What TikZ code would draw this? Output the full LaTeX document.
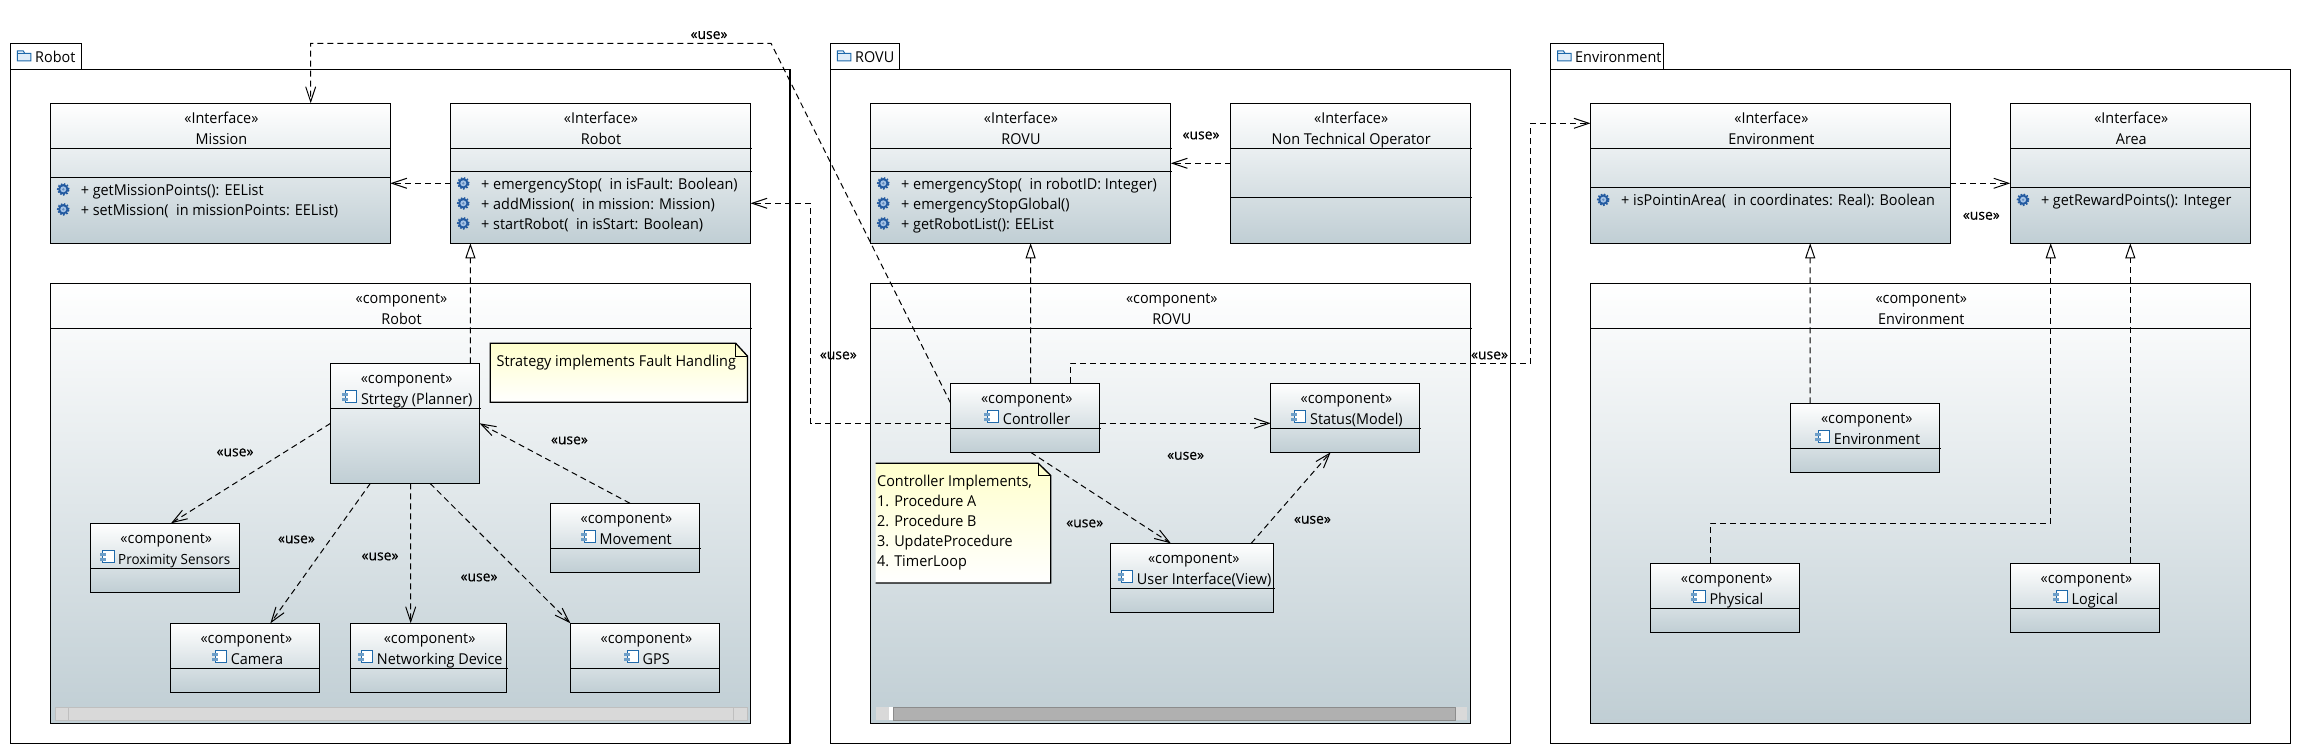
\documentclass[tikz,border=0pt]{standalone}
\usepackage{fontspec}
\setmainfont[FakeStretch=0.96]{Open Sans}
\newfontfamily\usefam[FakeStretch=0.96,FakeBold=0.3]{Open Sans}
\usetikzlibrary{arrows.meta,calc}
\definecolor{boxbot}{RGB}{192,206,212}
\definecolor{noteyel}{RGB}{255,255,204}
\definecolor{iconblue}{RGB}{30,105,170}
\definecolor{iconlight}{RGB}{222,236,248}
\definecolor{gearblue}{RGB}{35,90,160}
\definecolor{gearlight}{RGB}{165,195,230}
\definecolor{barlight}{RGB}{217,217,217}
\definecolor{bardark}{RGB}{176,176,176}
\tikzset{
  x=1pt,y=-1pt,
  pkgbox/.style={draw=black,line width=1.3pt,fill=white,inner sep=0pt,outer sep=0pt,anchor=north west},
  umlbox/.style={draw=black,line width=1.3pt,top color=white,bottom color=boxbot,shading angle=0,inner sep=0pt,outer sep=0pt,anchor=north west},
  sepline/.style={line width=1.2pt,black},
  usedep/.style={line width=1pt,dash pattern=on 6pt off 4pt,-{Straight Barb[length=15pt,width=10pt,line width=1pt]}},
  realize/.style={line width=1pt,dash pattern=on 6pt off 4pt,-{Triangle[length=15pt,width=10pt,fill=white,line width=1pt]}},
  txt/.style={font=\fontsize{15}{16}\selectfont,inner sep=0pt,text=black,text height=10.5pt,text depth=0pt},
  ltxt/.style={txt,anchor=west},
  ctxt/.style={txt,anchor=center},
  uselabel/.style={txt,anchor=center,font=\fontsize{14.5}{16}\usefam,yshift=1.25pt},
}
\newcommand{\foldericon}[2]{%
  \draw[iconblue,line width=1pt,fill=iconlight] (#1,#2+2.5) -- (#1,#2) -- (#1+6,#2) -- (#1+7.5,#2+2.5) -- (#1+13.5,#2+2.5) -- (#1+13.5,#2+10) -- (#1,#2+10) -- cycle;
  \draw[iconblue,line width=.8pt] (#1,#2+2.5) -- (#1+7.5,#2+2.5);
}
\newcommand{\compicon}[2]{%
  \draw[iconblue,line width=1pt,fill=white] (#1+3,#2) rectangle (#1+14.5,#2+12);
  \fill[iconblue!65] (#1,#2+2.5) rectangle (#1+6,#2+5);
  \fill[iconblue!65] (#1,#2+7.5) rectangle (#1+6,#2+10);
}
\newcommand{\gearicon}[2]{%
  \fill[gearblue] (#1,#2) circle (5.2pt);
  \draw[gearblue,line width=1.6pt,dash pattern=on 1.6pt off 1.6pt] (#1,#2) circle (5.6pt);
  \fill[gearlight] (#1,#2) circle (3pt);
  \fill[gearblue!70] (#1,#2) circle (1.3pt);
}
\newcommand{\ubox}[5]{\node[umlbox,minimum width={(#4-#2)*1pt},minimum height={(#5-#3)*1pt}] (#1) at (#2,#3) {};}
\newcommand{\usep}[2]{\draw[sepline] ([yshift=-#2pt]#1.north west) -- ([yshift=-#2pt,xshift=1pt]#1.north east);}
\newcommand{\compbox}[7]{%
  \ubox{#1}{#2}{#3}{#4}{#3+69}\usep{#1}{45}%
  \node[ctxt] (#1-st) at (#5,#3+14.5) {«component»};
  \compicon{#6}{#3+27.4}%
  \node[ltxt] (#1-nm) at (#6+18.5,#3+35.7) {#7};
}
\begin{document}
\begin{tikzpicture}
\useasboundingbox (0,0) rectangle (2301,754);
\fill[white] (0,0) rectangle (2301,754);

%%% Packages
\node[pkgbox,minimum width=71pt,minimum height=27pt] (rtab) at (10.7,43.3) {};
\node[pkgbox,minimum width=779.3pt,minimum height=674pt] (rpkg) at (10.7,69.3) {};
\foldericon{17.3}{51}
\node[ltxt] (rtabt) at (35,57.5) {Robot};

\node[pkgbox,minimum width=69pt,minimum height=27pt] (vtab) at (830.6,43.3) {};
\node[pkgbox,minimum width=680.2pt,minimum height=674pt] (vpkg) at (830.6,69.3) {};
\foldericon{837.3}{51}
\node[ltxt] (vtabt) at (855,57.5) {ROVU};

\node[pkgbox,minimum width=112.6pt,minimum height=27pt] (etab) at (1550.6,43.3) {};
\node[pkgbox,minimum width=740pt,minimum height=674pt] (epkg) at (1550.6,69.3) {};
\foldericon{1557.5}{51}
\node[ltxt] (etabt) at (1575,57.5) {Environment};

%%% Robot package
\ubox{mission}{50.5}{103.3}{390.3}{243.3}\usep{mission}{45}\usep{mission}{74}
\node[ctxt] (mission-st) at (221.4,118) {«Interface»};
\node[ctxt] (mission-nm) at (221.4,139) {Mission};
\gearicon{63.3}{189.3}\gearicon{63.3}{209.3}
\node[ltxt] (mission-o1) at (80.6,190) {+ getMissionPoints(): EEList};
\node[ltxt] (mission-o2) at (80.6,210) {+ setMission(\ \ in missionPoints: EEList)};

\ubox{robotif}{450.5}{103.3}{750.5}{243.3}\usep{robotif}{45}\usep{robotif}{68}
\node[ctxt] (robotif-st) at (601,118) {«Interface»};
\node[ctxt] (robotif-nm) at (601,139) {Robot};
\gearicon{463.3}{183.3}\gearicon{463.3}{203.3}\gearicon{463.3}{223.3}
\node[ltxt] (robotif-o1) at (481,184) {+ emergencyStop(\ \ in isFault: Boolean)};
\node[ltxt] (robotif-o2) at (481,204) {+ addMission(\ \ in mission: Mission)};
\node[ltxt] (robotif-o3) at (481,224) {+ startRobot(\ \ in isStart: Boolean)};

\ubox{robotc}{50.5}{283.3}{750.5}{723.3}\usep{robotc}{45}
\node[ctxt] (robotc-st) at (401.5,298.3) {«component»};
\node[ctxt] (robotc-nm) at (401.5,319) {Robot};
\fill[barlight] (55.6,707.3) rectangle (747.4,720);
\draw[black!25,line width=.8pt] (55.6,707.3) rectangle (747.4,720);
\draw[black!25,line width=.8pt] (67.9,707.3) -- (67.9,720) (733.7,707.3) -- (733.7,720);

\path[draw=black,line width=1.3pt,top color=noteyel,bottom color=white] (490.3,343.3) -- (735.7,343.3) -- (747.4,356) -- (747.4,402.3) -- (490.3,402.3) -- cycle;
\draw[line width=1pt] (735.7,343.3) -- (735.7,356) -- (747.4,356);
\node[ltxt] (rnote) at (496.4,361) {Strategy implements Fault Handling};

\node[umlbox,minimum width=149pt,minimum height=120pt] (strategy) at (330.6,363.3) {};
\usep{strategy}{45}
\node[ctxt] (strategy-st) at (406.6,377.8) {«component»};
\compicon{342.3}{390.7}
\node[ltxt] (strategy-nm) at (360.8,399) {Strtegy (Planner)};

\compbox{prox}{90.3}{523.3}{239.3}{166.3}{99.5}{\fontsize{14}{16}\selectfont Proximity Sensors}
\compbox{camera}{170.4}{623.3}{319.4}{246.4}{212.2}{Camera}
\compbox{network}{350.5}{623.3}{506.6}{429.6}{358.2}{Networking Device}
\compbox{gps}{570.4}{623.3}{719.4}{646.4}{624}{GPS}
\compbox{movement}{550.5}{503.3}{699.5}{626.5}{581}{Movement}

\draw[usedep] ([yshift=-80pt]robotif.north west) -- ([yshift=-80pt]mission.north east);
\draw[realize] ([xshift=139.8pt]strategy.north west) -- ([xshift=19.9pt]robotif.south west);
\draw[usedep] ([yshift=-60pt]strategy.north west) -- ([xshift=80.7pt]prox.north west);
\draw[usedep] ([xshift=39.8pt]strategy.south west) -- ([xshift=100pt]camera.north west);
\draw[usedep] ([xshift=80.1pt]strategy.south west) -- ([xshift=60.2pt]network.north west);
\draw[usedep] ([xshift=99.4pt]strategy.south west) -- (gps.north west);
\draw[usedep] ([xshift=79.5pt]movement.north west) -- ([yshift=-60pt]strategy.north east);

\node[uselabel] (u1) at (235,452.3) {«use»};
\node[uselabel] (u2) at (296.4,539.3) {«use»};
\node[uselabel] (u3) at (380,556.3) {«use»};
\node[uselabel] (u4) at (479,577.3) {«use»};
\node[uselabel] (u5) at (569.4,440.3) {«use»};

%%% ROVU package
\ubox{rovuif}{870.3}{103.3}{1170.8}{243.3}\usep{rovuif}{45}\usep{rovuif}{68}
\node[ctxt] (rovuif-st) at (1021,118) {«Interface»};
\node[ctxt] (rovuif-nm) at (1021,139) {ROVU};
\gearicon{883.3}{183.3}\gearicon{883.3}{203.3}\gearicon{883.3}{223.3}
\node[ltxt] (rovuif-o1) at (901,184) {+ emergencyStop(\ \ in robotID: Integer)};
\node[ltxt] (rovuif-o2) at (901,204) {+ emergencyStopGlobal()};
\node[ltxt] (rovuif-o3) at (901,224) {+ getRobotList(): EEList};

\ubox{nto}{1230.6}{103.3}{1470.8}{243.3}\usep{nto}{45}\usep{nto}{94}
\node[ctxt] (nto-st) at (1351.2,118) {«Interface»};
\node[ctxt] (nto-nm) at (1351.2,139) {Non Technical Operator};

\ubox{rovuc}{870.3}{283.3}{1470.8}{723.3}\usep{rovuc}{45}
\node[ctxt] (rovuc-st) at (1171.8,298.3) {«component»};
\node[ctxt] (rovuc-nm) at (1171.8,319) {ROVU};
\fill[barlight] (875.6,707.3) rectangle (1466.6,720);
\fill[white] (889,707.3) rectangle (893,720);
\fill[bardark] (893,707.3) rectangle (1455,720);
\draw[black!45,line width=.6pt] (893,707.3) rectangle (1455,720);

\path[top color=noteyel,bottom color=white] (875.7,463.3) -- (1038.3,463.3) -- (1050.7,475.5) -- (1050.7,583) -- (875.7,583) -- cycle;
\draw[line width=1.3pt] (875.7,463.3) -- (1038.3,463.3) -- (1050.7,475.5) -- (1050.7,583) -- (875.7,583);
\draw[line width=1pt] (1038.3,463.3) -- (1038.3,475.5) -- (1050.7,475.5);
\node[ltxt] (vnote1) at (877,481) {Controller Implements,};
\node[ltxt] (vnote2) at (877,501) {1. Procedure A};
\node[ltxt] (vnote3) at (877,521) {2. Procedure B};
\node[ltxt] (vnote4) at (877,541) {3. UpdateProcedure};
\node[ltxt] (vnote5) at (877,561) {4. TimerLoop};

\compbox{controller}{950.7}{383.3}{1099.5}{1026.8}{984.2}{Controller}
\compbox{status}{1270.8}{383.3}{1419.6}{1346.4}{1291.4}{Status(Model)}
\compbox{ui}{1110.5}{543.3}{1273.7}{1193.8}{1118.2}{User Interface(View)}

\coordinate (a1) at (771,43.3);
\coordinate (a2) at (310.7,43.3);
\draw[usedep] ([yshift=-20pt]controller.north west) -- (a1) -- (a2) -- (mission.north -| a2);
\coordinate (b1) at (810.5,423.3);
\coordinate (b2) at (810.5,203.3);
\draw[usedep] ([yshift=-40pt]controller.north west) -- (b1) -- (b2) -- ([yshift=-100pt]robotif.north east);
\draw[usedep] ([yshift=-40pt]controller.north east) -- ([yshift=-40pt]status.north west);
\draw[usedep] ([xshift=79.9pt]controller.south west) -- ([xshift=60.3pt]ui.north west);
\draw[usedep] ([xshift=140.7pt]ui.north west) -- ([xshift=59.8pt]status.south west);
\draw[realize] ([xshift=79.9pt]controller.north west) -- ([xshift=160.3pt]rovuif.south west);
\draw[usedep] ([yshift=-60pt]nto.north west) -- ([yshift=-60pt]rovuif.north east);
\coordinate (c1) at (1070.3,363.3);
\coordinate (c2) at (1530.6,363.3);
\coordinate (c3) at (1530.6,123.3);
\node[uselabel] (u6) at (709,35) {«use»};
\node[uselabel] (u7) at (1201,135.3) {«use»};
\node[uselabel] (u8) at (838.3,355.3) {«use»};
\node[uselabel] (u9) at (1489.5,355.3) {«use»};
\node[uselabel] (u10) at (1185.6,455.7) {«use»};
\node[uselabel] (u11) at (1084.7,523.3) {«use»};
\node[uselabel] (u12) at (1312.4,519.7) {«use»};

%%% Environment package
\ubox{envif}{1590.5}{103.3}{1950.4}{243.3}\usep{envif}{45}\usep{envif}{84}
\node[ctxt] (envif-st) at (1771.4,118) {«Interface»};
\node[ctxt] (envif-nm) at (1771.4,139) {Environment};
\gearicon{1603.3}{199.7}
\node[ltxt] (envif-o1) at (1621,200) {+ isPointinArea(\ \ in coordinates: Real): Boolean};

\ubox{area}{2010.3}{103.3}{2250.3}{243.3}\usep{area}{45}\usep{area}{84}
\node[ctxt] (area-st) at (2131.3,118) {«Interface»};
\node[ctxt] (area-nm) at (2131.3,139) {Area};
\gearicon{2023.1}{199.7}
\node[ltxt] (area-o1) at (2040.8,200) {+ getRewardPoints(): Integer};

\ubox{envc}{1590.5}{283.3}{2250.3}{723.3}\usep{envc}{45}
\node[ctxt] (envc-st) at (1921.3,298.3) {«component»};
\node[ctxt] (envc-nm) at (1921.3,319) {Environment};

\compbox{environ}{1790.6}{403.3}{1939.5}{1866.8}{1815.2}{Environment}
\compbox{physical}{1650.5}{563.3}{1799.4}{1726.7}{1690.8}{Physical}
\compbox{logical}{2010.3}{563.3}{2159.3}{2086.5}{2053}{Logical}

\draw[usedep] ([xshift=119.6pt]controller.north west) -- (c1) -- (c2) -- (c3) -- ([yshift=-20pt]envif.north west);
\draw[usedep] ([yshift=-80pt]envif.north east) -- ([yshift=-80pt]area.north west);
\node[uselabel] (u13) at (1981.3,215.7) {«use»};
\draw[realize] ([xshift=19.6pt]environ.north west) -- ([xshift=219.7pt]envif.south west);
\coordinate (d1) at (1710.4,523.3);
\coordinate (d2) at (2050.7,523.3);
\draw[realize] ([xshift=59.9pt]physical.north west) -- (d1) -- (d2) -- ([xshift=40.4pt]area.south west);
\draw[realize] ([xshift=120pt]logical.north west) -- ([xshift=120pt]area.south west);
\end{tikzpicture}
\end{document}
